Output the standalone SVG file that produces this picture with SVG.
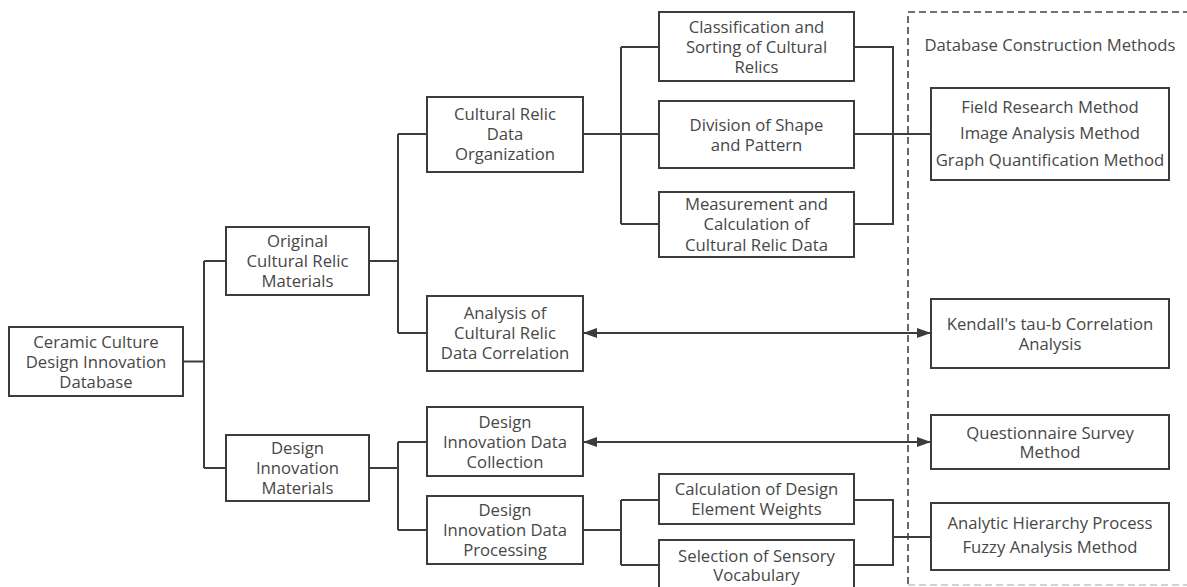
<svg xmlns="http://www.w3.org/2000/svg" width="1187" height="587" viewBox="0 0 1187 587">
  <defs>
    <style>
      .box { fill: #ffffff; stroke: #3c3c3c; stroke-width: 2; }
      .lbl { font-family: "Open Sans", "Noto Sans", "Liberation Sans", sans-serif; font-size: 16.7px; fill: #474747; text-anchor: middle; }
      .wire { fill: none; stroke: #3c3c3c; stroke-width: 2; }
      .dash { fill: none; stroke: #444444; stroke-width: 1.6; stroke-dasharray: 7 4; }
      .dash-lt { fill: none; stroke: #c4c4c4; stroke-width: 1.6; stroke-dasharray: 7 4; }
    </style>
    <marker id="arr" viewBox="0 0 14 10" refX="14" refY="5" markerWidth="14" markerHeight="10" markerUnits="userSpaceOnUse" orient="auto-start-reverse">
      <path d="M0,0 L14,5 L0,10 Z" fill="#3c3c3c"/>
    </marker>
  </defs>
  <rect width="1187" height="587" fill="#ffffff"/>

  <!-- methods panel -->
  <g id="methods-panel">
    <path class="dash" d="M1190,12 H908 V585"/>
    <path class="dash-lt" d="M908,585 H1190"/>
    <text class="lbl" x="1050" y="51">Database Construction Methods</text>
  </g>

  <!-- connectors -->
  <g id="connectors">
    <path class="wire" d="M183,361.5 H204 M204,261 V468 M204,261 H226 M204,468 H226"/>
    <path class="wire" d="M369,261 H398 M398,134 V333 M398,134 H427 M398,333 H427"/>
    <path class="wire" d="M369,468 H398 M398,442 V530 M398,442 H427 M398,530 H427"/>
    <path class="wire" d="M583,134 H621 M621,47 V224 M621,47 H659 M621,134 H659 M621,224 H659"/>
    <path class="wire" d="M854,47 H893 V224 H854 M854,134 H931"/>
    <path class="wire" d="M583,333 H931" marker-start="url(#arr)" marker-end="url(#arr)"/>
    <path class="wire" d="M583,442 H931" marker-start="url(#arr)" marker-end="url(#arr)"/>
    <path class="wire" d="M583,530 H621 M621,500 V565 M621,500 H659 M621,565 H659"/>
    <path class="wire" d="M854,500 H893 V565 H854 M893,537 H931"/>
  </g>

  <g id="root">
    <rect class="box" x="9" y="327" width="174" height="69"/>
    <text class="lbl" x="96" y="348">Ceramic Culture</text>
    <text class="lbl" x="96" y="368">Design Innovation</text>
    <text class="lbl" x="96" y="388">Database</text>
  </g>
  <g id="original-materials">
    <rect class="box" x="226" y="227" width="143" height="68"/>
    <text class="lbl" x="297.5" y="247">Original</text>
    <text class="lbl" x="297.5" y="267">Cultural Relic</text>
    <text class="lbl" x="297.5" y="287">Materials</text>
  </g>
  <g id="design-materials">
    <rect class="box" x="226" y="435" width="143" height="66"/>
    <text class="lbl" x="297.5" y="454">Design</text>
    <text class="lbl" x="297.5" y="474">Innovation</text>
    <text class="lbl" x="297.5" y="494">Materials</text>
  </g>
  <g id="relic-organization">
    <rect class="box" x="427" y="97" width="156" height="75"/>
    <text class="lbl" x="505" y="120">Cultural Relic</text>
    <text class="lbl" x="505" y="140">Data</text>
    <text class="lbl" x="505" y="160">Organization</text>
  </g>
  <g id="relic-correlation">
    <rect class="box" x="427" y="296" width="156" height="75"/>
    <text class="lbl" x="505" y="319">Analysis of</text>
    <text class="lbl" x="505" y="339">Cultural Relic</text>
    <text class="lbl" x="505" y="359">Data Correlation</text>
  </g>
  <g id="design-collection">
    <rect class="box" x="427" y="407" width="156" height="69"/>
    <text class="lbl" x="505" y="428">Design</text>
    <text class="lbl" x="505" y="448">Innovation Data</text>
    <text class="lbl" x="505" y="468">Collection</text>
  </g>
  <g id="design-processing">
    <rect class="box" x="427" y="496" width="156" height="68"/>
    <text class="lbl" x="505" y="516">Design</text>
    <text class="lbl" x="505" y="536">Innovation Data</text>
    <text class="lbl" x="505" y="556">Processing</text>
  </g>
  <g id="classification">
    <rect class="box" x="659" y="12" width="195" height="69"/>
    <text class="lbl" x="756.5" y="33">Classification and</text>
    <text class="lbl" x="756.5" y="53">Sorting of Cultural</text>
    <text class="lbl" x="756.5" y="73">Relics</text>
  </g>
  <g id="shape-pattern">
    <rect class="box" x="659" y="101" width="195" height="67"/>
    <text class="lbl" x="756.5" y="131">Division of Shape</text>
    <text class="lbl" x="756.5" y="151">and Pattern</text>
  </g>
  <g id="measurement">
    <rect class="box" x="659" y="192" width="195" height="65"/>
    <text class="lbl" x="756.5" y="210">Measurement and</text>
    <text class="lbl" x="756.5" y="230">Calculation of</text>
    <text class="lbl" x="756.5" y="251">Cultural Relic Data</text>
  </g>
  <g id="element-weights">
    <rect class="box" x="659" y="474" width="195" height="50"/>
    <text class="lbl" x="756.5" y="495">Calculation of Design</text>
    <text class="lbl" x="756.5" y="515">Element Weights</text>
  </g>
  <g id="sensory-vocabulary">
    <rect class="box" x="659" y="540" width="195" height="52"/>
    <text class="lbl" x="756.5" y="562">Selection of Sensory</text>
    <text class="lbl" x="756.5" y="581">Vocabulary</text>
  </g>
  <g id="field-methods">
    <rect class="box" x="931" y="88" width="238" height="92"/>
    <text class="lbl" x="1050" y="113">Field Research Method</text>
    <text class="lbl" x="1050" y="139">Image Analysis Method</text>
    <text class="lbl" x="1050" y="166">Graph Quantification Method</text>
  </g>
  <g id="kendall">
    <rect class="box" x="931" y="299" width="238" height="69"/>
    <text class="lbl" x="1050" y="330">Kendall's tau-b Correlation</text>
    <text class="lbl" x="1050" y="350">Analysis</text>
  </g>
  <g id="questionnaire">
    <rect class="box" x="931" y="415" width="238" height="54"/>
    <text class="lbl" x="1050" y="439">Questionnaire Survey</text>
    <text class="lbl" x="1050" y="458">Method</text>
  </g>
  <g id="ahp-fuzzy">
    <rect class="box" x="931" y="503" width="238" height="67"/>
    <text class="lbl" x="1050" y="529">Analytic Hierarchy Process</text>
    <text class="lbl" x="1050" y="553">Fuzzy Analysis Method</text>
  </g>
</svg>
